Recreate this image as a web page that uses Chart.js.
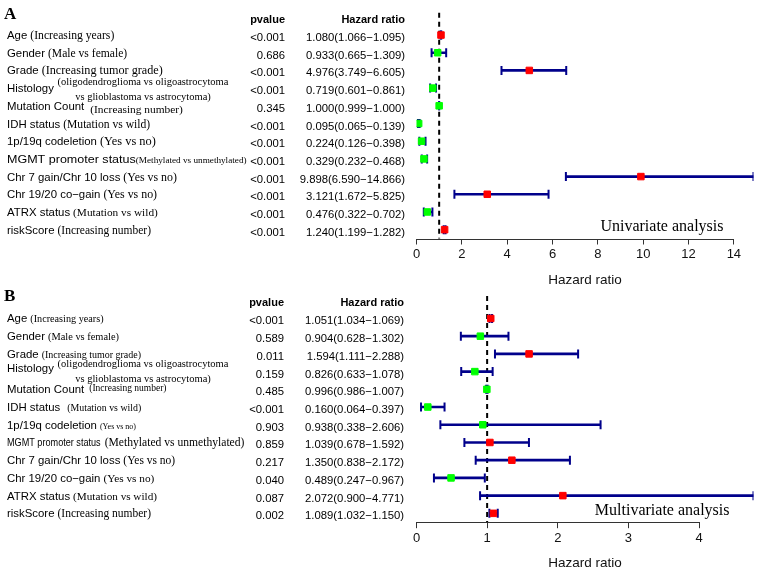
<!DOCTYPE html>
<html>
<head>
<meta charset="utf-8">
<script src="https://cdn.jsdelivr.net/npm/chart.js@4.4.0/dist/chart.umd.min.js"></script>
<style>
  body { margin: 0; background: #fff; }
  #wrap { position: relative; width: 760px; height: 571px; }
  canvas { position: absolute; left: 0; }
</style>
</head>
<body>
<div id="wrap">
  <canvas id="uniChart" width="760" height="290" style="top:0"></canvas>
  <canvas id="multiChart" width="760" height="281" style="top:290px"></canvas>
</div>
<script>
const SANS = '"Liberation Sans", Arial, sans-serif';
const SERIF = '"Liberation Serif", "Times New Roman", serif';

// rows (same for both panels)
const rowLabels = ["Age", "Gender", "Grade", "Histology", "Mutation Count", "IDH status",
  "1p/19q codeletion", "MGMT promoter status", "Chr 7 gain/Chr 10 loss", "Chr 19/20 co\u2212gain",
  "ATRX status", "riskScore"];
const rowNotes = ["(Increasing years)", "(Male vs female)", "(Increasing tumor grade)",
  ["(oligodendroglioma vs oligoastrocytoma", "vs glioblastoma vs astrocytoma)"],
  "(Increasing number)", "(Mutation vs wild)", "(Yes vs no)", "(Methylated vs unmethylated)",
  "(Yes vs no)", "(Yes vs no)", "(Mutation vs wild)", "(Increasing number)"];

// univariate
const uniHR    = [1.080, 0.933, 4.976, 0.719, 1.000, 0.095, 0.224, 0.329, 9.898, 3.121, 0.476, 1.240];
const uniLower = [1.066, 0.665, 3.749, 0.601, 0.999, 0.065, 0.126, 0.232, 6.590, 1.672, 0.322, 1.199];
const uniUpper = [1.095, 1.309, 6.605, 0.861, 1.000, 0.139, 0.398, 0.468, 14.866, 5.825, 0.702, 1.282];
const uniP     = ["<0.001", "0.686", "<0.001", "<0.001", "0.345", "<0.001", "<0.001", "<0.001", "<0.001", "<0.001", "<0.001", "<0.001"];

// multivariate
const multiHR    = [1.051, 0.904, 1.594, 0.826, 0.996, 0.160, 0.938, 1.039, 1.350, 0.489, 2.072, 1.089];
const multiLower = [1.034, 0.628, 1.111, 0.633, 0.986, 0.064, 0.338, 0.678, 0.838, 0.247, 0.900, 1.032];
const multiUpper = [1.069, 1.302, 2.288, 1.078, 1.007, 0.397, 2.606, 1.592, 2.172, 0.967, 4.771, 1.150];
const multiP     = ["<0.001", "0.589", "0.011", "0.159", "0.485", "<0.001", "0.903", "0.859", "0.217", "0.040", "0.087", "0.002"];

const WHISKER = "#00008b";

// text columns, reference line and the short axis line
const forestText = {
  id: "forestText",
  beforeDatasetsDraw(chart, args, opts) {
    const { ctx, chartArea, scales: { x } } = chart;
    const xr = x.getPixelForValue(1);
    ctx.save();
    ctx.strokeStyle = "#000";
    ctx.lineWidth = 2;
    ctx.setLineDash([5, 4]);
    ctx.beginPath();
    ctx.moveTo(xr, chartArea.top - 13.5);
    ctx.lineTo(xr, chartArea.bottom);
    ctx.stroke();
    ctx.restore();
  },
  afterDraw(chart, args, opts) {
    const { ctx, chartArea, scales: { x, y } } = chart;
    const look = opts.look;
    ctx.save();

    // axis line only spans the labelled ticks
    const ticks = x.ticks;
    const axisY = Math.round(chartArea.bottom) + 0.5;
    ctx.strokeStyle = "#333";
    ctx.lineWidth = 1;
    ctx.beginPath();
    ctx.moveTo(x.getPixelForValue(ticks[0].value), axisY);
    ctx.lineTo(x.getPixelForValue(ticks[ticks.length - 1].value), axisY);
    ctx.stroke();

    ctx.fillStyle = "#000";
    ctx.textBaseline = "alphabetic";

    ctx.font = `bold 17px ${SERIF}`;
    ctx.textAlign = "left";
    ctx.fillText(opts.letter, 4, look.letterY);

    const headY = y.getPixelForValue(0) - 16 + 4;
    ctx.font = `bold 11px ${SANS}`;
    ctx.textAlign = "right";
    ctx.fillText("pvalue", look.pRight, headY);
    ctx.fillText("Hazard ratio", look.hrRight, headY);

    rowLabels.forEach((label, i) => {
      const ry = y.getPixelForValue(i);
      const sx = look.labelScale[i];
      ctx.textAlign = "left";
      ctx.font = `11.4px ${SANS}`;
      ctx.save();
      ctx.translate(7, ry + 4 + look.labelShift[i]);
      ctx.scale(sx, 1);
      ctx.fillText(label, 0, 0);
      ctx.restore();
      const w = ctx.measureText(label).width * sx;

      ctx.font = `${look.noteSize[i]}px ${SERIF}`;
      const note = rowNotes[i];
      if (Array.isArray(note)) {
        ctx.textAlign = "center";
        ctx.fillText(note[0], 143, ry + look.histY[0]);
        ctx.fillText(note[1], 143, ry + look.histY[1]);
      } else {
        ctx.fillText(note, 7 + w + look.noteGap[i], ry + 4 + look.noteShift[i]);
      }

      ctx.font = `11.3px ${SANS}`;
      ctx.textAlign = "right";
      ctx.fillText(opts.pvalues[i], look.pRight, ry + 6);
      ctx.fillText(opts.hrText[i], look.hrRight, ry + 6);
    });

    ctx.font = `16px ${SERIF}`;
    ctx.textAlign = "right";
    ctx.textBaseline = "middle";
    ctx.fillText(opts.caption, chartArea.right - look.capRight, chartArea.bottom - 11.5);
    ctx.restore();
  }
};

function drawForest(canvasId, hr, lower, upper, pvalues, letter, caption, look) {
  const ctx = document.getElementById(canvasId).getContext("2d");
  const pointColors = hr.map((v) => (v > 1 ? "#ff0000" : "#00ff00"));
  const hrText = hr.map((v, i) => `${v.toFixed(3)}(${lower[i].toFixed(3)}\u2212${upper[i].toFixed(3)})`);
  const asPoints = (vals) => vals.map((v, i) => ({ x: v, y: rowLabels[i] }));

  return new Chart(ctx, {
    type: "bar",
    data: {
      labels: rowLabels,
      datasets: [
        {
          type: "scatter",
          data: asPoints(hr),
          pointStyle: "rect",
          pointRadius: 4.6,
          pointBackgroundColor: pointColors,
          pointBorderColor: pointColors,
          pointBorderWidth: 1,
          order: 0
        },
        {
          type: "scatter",
          data: asPoints(lower),
          pointStyle: "line",
          pointRotation: 90,
          pointRadius: 4.5,
          pointBorderColor: WHISKER,
          pointBorderWidth: 2,
          order: 1
        },
        {
          type: "scatter",
          data: asPoints(upper),
          pointStyle: "line",
          pointRotation: 90,
          pointRadius: 4.5,
          pointBorderColor: WHISKER,
          pointBorderWidth: 2,
          order: 2
        },
        {
          type: "bar",
          data: lower.map((v, i) => [v, upper[i]]),
          backgroundColor: WHISKER,
          borderWidth: 0,
          barThickness: 2,
          order: 3
        }
      ]
    },
    options: {
      indexAxis: "y",
      responsive: false,
      animation: false,
      devicePixelRatio: 1,
      events: [],
      layout: { padding: { top: look.top, left: 416.5, right: 3, bottom: 0 } },
      plugins: {
        legend: { display: false },
        tooltip: { enabled: false },
        forestText: { letter, caption, pvalues, hrText, look }
      },
      scales: {
        x: {
          type: "linear",
          min: 0,
          max: Math.max(...upper),
          ticks: {
            stepSize: look.step,
            includeBounds: false,
            color: "#111",
            padding: 2,
            maxRotation: 0,
            font: { family: SANS, size: 13 }
          },
          grid: { display: true, drawOnChartArea: false, drawTicks: true, tickLength: 6, tickColor: "#333", color: "#333" },
          border: { display: false },
          title: {
            display: true,
            text: "Hazard ratio",
            color: "#111",
            font: { family: SANS, size: 13.5 },
            padding: { top: 0, bottom: look.titlePad }
          },
          afterFit: (scale) => { scale.height = look.axisHeight; }
        },
        y: { type: "category", labels: rowLabels, offset: true, display: false }
      }
    },
    plugins: [forestText]
  });
}

drawForest("uniChart", uniHR, uniLower, uniUpper, uniP, "A", "Univariate analysis", {
  top: 26.2, axisHeight: 51.5, titlePad: 2, step: 2, pRight: 285, hrRight: 405,
  letterY: 18.5, capRight: 30, histY: [-3, 12],
  noteSize: [11.7, 11.6, 12.2, 10.5, 11.4, 11.6, 12.4, 9.2, 11.9, 11.9, 11.3, 11.5],
  noteGap: [3, 3, 3, 3, 6, 3, 3, 0, 3, 3, 3, 3],
  noteShift: [0, 0, 0, 0, 3, 0, 0, 0, 0, 0, 0, 0],
  labelShift: [0, 0, 0, 0, 0, 0, 0, 0, 0, 0, 0, 0],
  labelScale: [1, 1, 1, 1, 1, 1, 1, 1.1, 1, 1, 1, 1]
});

drawForest("multiChart", multiHR, multiLower, multiUpper, multiP, "B", "Multivariate analysis", {
  top: 19.6, axisHeight: 48.8, titlePad: 0, step: 1, pRight: 284, hrRight: 404,
  letterY: 10.5, capRight: 24, histY: [-5, 10],
  noteSize: [10.2, 10.4, 10, 10.5, 9.5, 9.9, 8, 11.6, 11.5, 11.3, 11.2, 11.5],
  noteGap: [3, 3, 3, 3, 5, 7, 3, 4, 3, 3, 3, 3],
  noteShift: [0, 0, 0, 0, -2, 0, 0, 0, 0, 0, 0, 0],
  labelShift: [0, 0, 0, -4, 0, 0, 0, 0, 0, 0, 0, 0],
  labelScale: [1, 1, 1, 1, 1, 1, 1, 0.8, 1, 1, 1, 1]
});
</script>
</body>
</html>
